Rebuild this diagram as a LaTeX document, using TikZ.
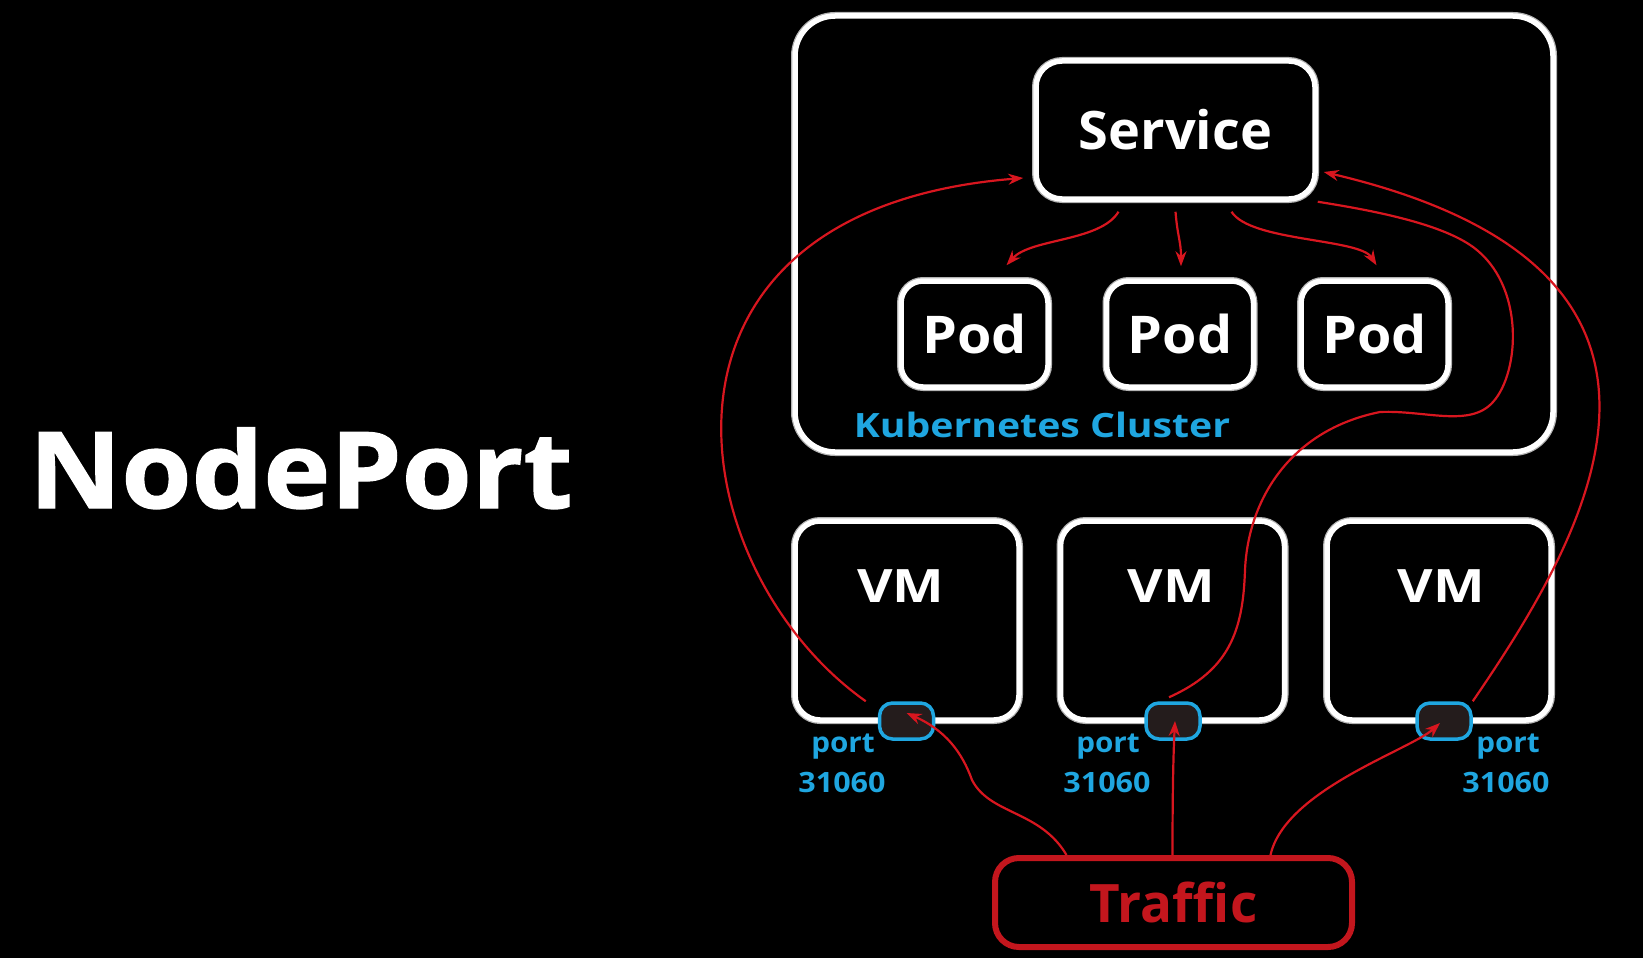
\documentclass[tikz,border=0pt]{standalone}
\usepackage{fontspec}
\usepackage{graphicx}
\setmainfont{Open Sans}
\newfontfamily\heavyfont[BoldFeatures={FakeBold=1.2}]{Open Sans}
\usetikzlibrary{arrows.meta}
\definecolor{kblue}{HTML}{1FA6E0}
\definecolor{kred}{HTML}{D8161F}
\definecolor{tred}{HTML}{C3161D}
\definecolor{portfill}{HTML}{241C1C}
\newcommand{\wx}[2]{\scalebox{#1}[1]{#2}}
\begin{document}
\begin{tikzpicture}[x=1pt,y=-1pt,
  wbox/.style={draw=white, line width=5.5pt, rounded corners=#1, fill=black, inner sep=0pt, text=white,
    preaction={draw=gray!60, line width=8pt}},
  boxtext/.style={text=white, font=\fontsize{#1}{#1}\selectfont\bfseries},
  portbox/.style={draw=kblue, line width=3.5pt, fill=portfill, rounded corners=13pt, minimum width=54pt, minimum height=36pt, inner sep=0pt},
  plabel/.style={text=kblue, font=\fontsize{28}{30}\selectfont\bfseries, anchor=base, inner sep=0pt},
  conn/.style={draw=kred, line width=2.2pt},
  arr/.style={conn, -{Stealth[length=15pt,width=11pt]}}
]
\useasboundingbox (0,0) rectangle (1643,958);
\fill[black] (0,0) rectangle (1643,958);

% title
\node[anchor=base west, inner sep=0pt, text=white, font=\fontsize{106}{120}\selectfont\heavyfont\bfseries] (title) at (29,508) {\wx{1.07}{NodePort}};

% cluster
\node[wbox=40pt, minimum width=758pt, minimum height=436pt] (cl) at (1174,234) {};
\node[wbox=26pt, minimum width=279pt, minimum height=138pt, font=\fontsize{53}{60}\selectfont\bfseries] (s) at (1175.5,130) {\wx{1.02}{Service}};
\node[wbox=22pt, minimum width=147pt, minimum height=106pt, font=\fontsize{52}{60}\selectfont\bfseries] (pod1) at (974.5,334) {\wx{1.07}{Pod}};
\node[wbox=22pt, minimum width=147pt, minimum height=106pt, font=\fontsize{52}{60}\selectfont\bfseries] (pod2) at (1180,334) {\wx{1.07}{Pod}};
\node[wbox=22pt, minimum width=147pt, minimum height=106pt, font=\fontsize{52}{60}\selectfont\bfseries] (pod3) at (1374.5,334) {\wx{1.07}{Pod}};
\node[text=kblue, font=\fontsize{33.5}{36}\selectfont\bfseries, inner sep=0pt] (kc) at (1042,425) {\wx{1.17}{Kubernetes Cluster}};

% VMs
\node[wbox=25pt, minimum width=224pt, minimum height=199pt] (vm1) at (907,620.5) {};
\node[wbox=25pt, minimum width=224pt, minimum height=199pt] (vm2) at (1172.5,620.5) {};
\node[wbox=25pt, minimum width=224pt, minimum height=199pt] (vm3) at (1439,620.5) {};
\node[boxtext=46, inner sep=0pt] (vm1t) at (901,586) {\wx{1.19}{VM}};
\node[boxtext=46, inner sep=0pt] (vm2t) at (1171,586) {\wx{1.19}{VM}};
\node[boxtext=46, inner sep=0pt] (vm3t) at (1441,586) {\wx{1.19}{VM}};

% ports
\node[portbox] (p1) at (906.5,721) {};
\node[portbox] (p2) at (1173,721) {};
\node[portbox] (p3) at (1444,721) {};
\node[plabel] (p1a) at (843,752) {\wx{1.06}{port}};
\node[plabel] (p1b) at (842,792) {\wx{1.09}{31060}};
\node[plabel] (p2a) at (1108,752) {\wx{1.06}{port}};
\node[plabel] (p2b) at (1107,792) {\wx{1.09}{31060}};
\node[plabel] (p3a) at (1508,752) {\wx{1.06}{port}};
\node[plabel] (p3b) at (1506,792) {\wx{1.09}{31060}};

% traffic
\node[draw=tred, line width=6pt, rounded corners=24pt, minimum width=357pt, minimum height=89pt, text=tred, font=\fontsize{53}{60}\selectfont\bfseries] (tr) at (1173.5,902.5) {Traffic};

% service -> pods
\draw[arr] ([xshift=-57pt,yshift=-10pt]s.south) .. controls +(-18,30) and +(24,-27) .. ([xshift=32pt,yshift=13pt]pod1.north);
\draw[arr] ([yshift=-10pt]s.south) .. controls +(2,25) and +(0,-25) .. ([xshift=1pt,yshift=12pt]pod2.north);
\draw[arr] ([xshift=56pt,yshift=-10pt]s.south) .. controls +(19,30) and +(-17,-27) .. ([xshift=2pt,yshift=13pt]pod3.north);

% ports -> service
\draw[arr] ([xshift=-12pt]p1.north west) .. controls (680,570) and (620,210) .. ([xshift=-10pt,yshift=-48pt]s.west);
\draw[conn] ([xshift=-4pt,yshift=4pt]p2.north) .. controls (1230,670) and (1243,630) .. (1245,570)
  .. controls (1248,500) and (1290,430) .. (1380,412)
  .. controls (1425,410) and (1470,428) .. (1493,402)
  .. controls (1520,372) and (1525,285) .. (1473,247)
  .. controls (1440,223) and (1370,210) .. (s.south east);
\draw[arr] (p3.north east) .. controls (1590,530) and (1740,270) .. ([xshift=6pt,yshift=-42pt]s.east);

% traffic -> ports
\draw[arr] ([xshift=-107pt]tr.north) .. controls (1040,810) and (990,815) .. (972,780) .. controls (962,752) and (945,730) .. ([yshift=8pt]p1.center);
\draw[arr] ([xshift=-1pt]tr.north) .. controls +(0,-50) and +(-2,40) .. ([xshift=2pt]p2.center);
\draw[arr] ([xshift=97pt]tr.north) .. controls (1285,790) and (1410,750) .. ([xshift=-4pt,yshift=-2pt]p3.center);
\end{tikzpicture}
\end{document}
